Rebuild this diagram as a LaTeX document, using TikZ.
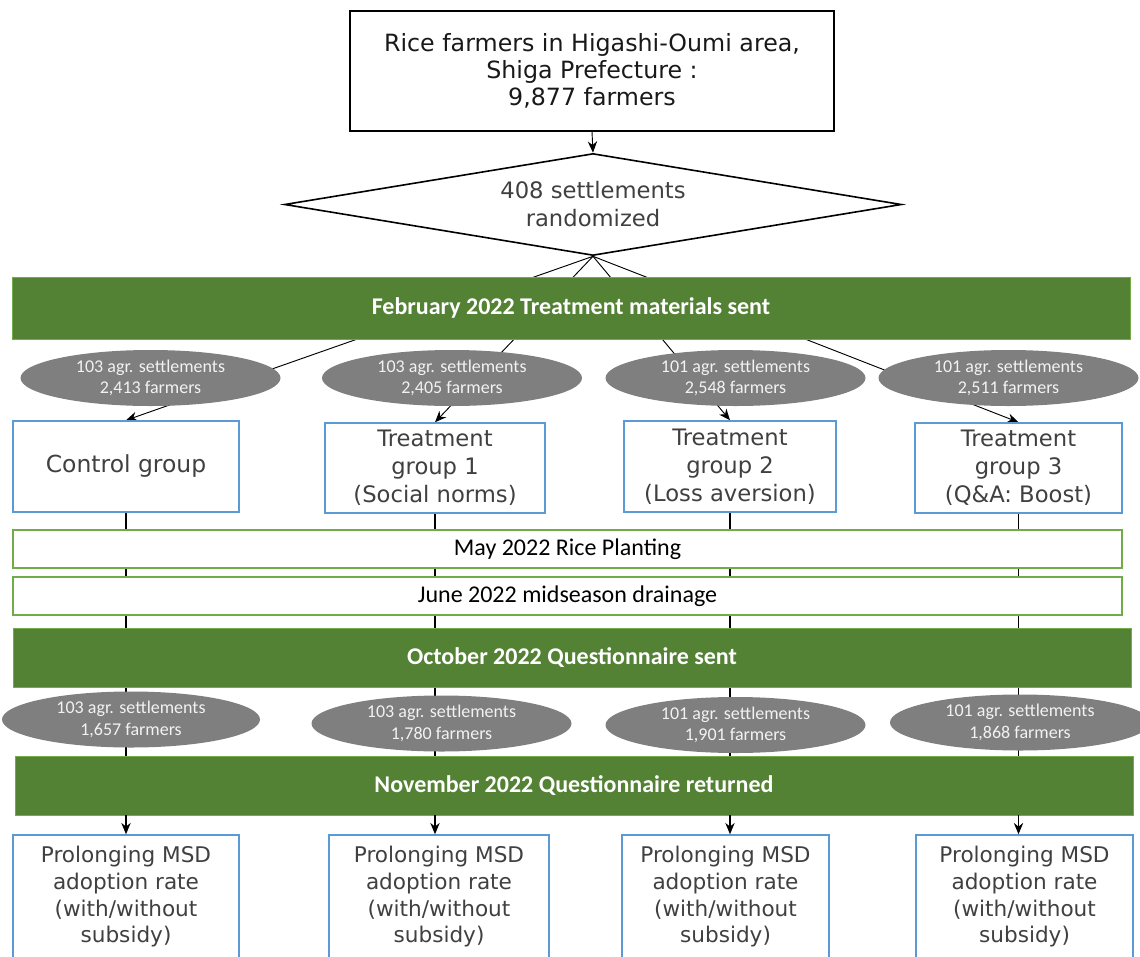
\documentclass[tikz,border=0pt]{standalone}
\usepackage{fontspec}
\setmainfont{Carlito}
\newfontfamily\tahoma{DejaVu Sans}
\usetikzlibrary{arrows.meta,shapes.geometric,backgrounds}
\definecolor{dkgreen}{HTML}{548235}
\definecolor{ltgreen}{HTML}{70AD47}
\definecolor{boxblue}{HTML}{5B9BD5}
\definecolor{ellgray}{HTML}{7F7F7F}
\definecolor{txtgray}{HTML}{404040}

\begin{document}
\begin{tikzpicture}[x=0.75pt,y=-0.75pt,>={Stealth[length=8.5pt,width=7pt]},
  grp/.style={draw=boxblue,line width=1.1pt,fill=white,align=center,text=txtgray,font=\tahoma\fontsize{17}{21}\selectfont,inner sep=0pt},
  res/.style={grp,font=\tahoma\fontsize{16.2}{20}\selectfont,minimum height=93pt},
  bar/.style={fill=dkgreen,draw=ltgreen,line width=0.4pt,text=white,font=\bfseries\fontsize{18}{22}\selectfont,minimum width=838.5pt,inner sep=0pt},
  evt/.style={fill=white,draw=ltgreen,line width=1.1pt,font=\fontsize{18}{22}\selectfont,minimum width=831.75pt,minimum height=28.5pt,inner sep=0pt},
  cnt/.style={ellipse,fill=ellgray,text=white!95!black,align=center,font=\fontsize{13.5}{16}\selectfont,minimum width=195pt,minimum height=42pt,inner sep=0pt},
  link/.style={line width=0.9pt}]
\useasboundingbox (0,0) rectangle (1140,957);

\node[draw,line width=1.2pt,align=center,text=black!90,font=\tahoma\fontsize{17.8}{20.25}\selectfont,minimum width=363pt,minimum height=90pt,inner sep=0pt] (farmers) at (592,71) {Rice farmers in Higashi-Oumi area,\\Shiga Prefecture :\\9,877 farmers};
\node[diamond,aspect=6,draw,line width=1.2pt,fill=white,align=center,text=txtgray,font=\tahoma\fontsize{17}{21}\selectfont,minimum width=462.75pt,minimum height=76.5pt,inner sep=0pt] (rand) at (593,204.5) {408 settlements\\randomized};

\node[bar,minimum height=46.5pt] (feb) at (571,308) {February 2022 Treatment materials sent};
\node[cnt] (s0) at (150.5,378) {103 agr. settlements\\2,413 farmers};
\node[cnt] (s1) at (452,378) {103 agr. settlements\\2,405 farmers};
\node[cnt] (s2) at (735.5,378) {101 agr. settlements\\2,548 farmers};
\node[cnt] (s3) at (1008.5,378) {101 agr. settlements\\2,511 farmers};

\node[grp,font=\tahoma\fontsize{17.6}{21}\selectfont,minimum width=169.5pt,minimum height=68.25pt] (g0) at (126,466.5) {Control group};
\node[grp,minimum width=165pt,minimum height=67.5pt] (g1) at (435,468) {Treatment\\group 1\\(Social norms)};
\node[grp,minimum width=159pt,minimum height=68.25pt] (g2) at (730,466.5) {Treatment\\group 2\\(Loss aversion)};
\node[grp,minimum width=155.25pt,minimum height=67.5pt] (g3) at (1018.5,468) {Treatment\\group 3\\(Q\&A: Boost)};

\node[evt] (may) at (567.5,549) {May 2022 Rice Planting};
\node[evt] (jun) at (567.5,596) {June 2022 midseason drainage};
\node[bar,minimum height=44.25pt] (oct) at (572,657.5) {October 2022 Questionnaire sent};

\node[cnt,minimum width=193.5pt] (n0) at (131,719.5) {103 agr. settlements\\1,657 farmers};
\node[cnt] (n1) at (441.5,723.5) {103 agr. settlements\\1,780 farmers};
\node[cnt] (n2) at (735.5,725) {101 agr. settlements\\1,901 farmers};
\node[cnt] (n3) at (1020,722.5) {101 agr. settlements\\1,868 farmers};

\node[bar,minimum height=44.25pt] (nov) at (574,785.5) {November 2022 Questionnaire returned};

\node[res,minimum width=169.5pt] (r0) at (126,897) {Prolonging MSD\\adoption rate\\(with/without\\subsidy)};
\node[res,minimum width=165pt] (r1) at (439,897) {Prolonging MSD\\adoption rate\\(with/without\\subsidy)};
\node[res,minimum width=155.25pt] (r2) at (725.5,897) {Prolonging MSD\\adoption rate\\(with/without\\subsidy)};
\node[res,minimum width=162.75pt] (r3) at (1024.5,897) {Prolonging MSD\\adoption rate\\(with/without\\subsidy)};

\draw[->,line width=0.7pt] (farmers.south) -- (rand.north);
\begin{pgfonlayer}{background}
\foreach \g in {0,...,3} {
  \draw[->,line width=0.7pt] (rand.south) -- (g\g.north);
  \draw[link] (g\g.south) -- (nov.north -| g\g.south);
}
\end{pgfonlayer}
\foreach \g in {0,...,3}
  \draw[->,link] (nov.south -| g\g.south) -- (r\g.north -| g\g.south);
\end{tikzpicture}
\end{document}
